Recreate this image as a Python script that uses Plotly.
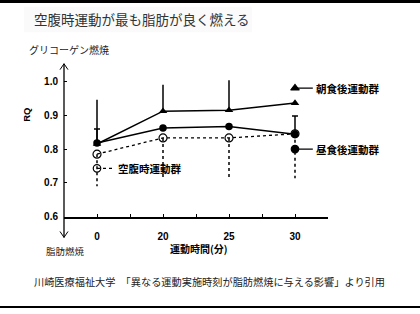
import plotly.graph_objects as go

# ---- data ----
categories = ["0", "20", "25", "30"]
breakfast = [0.815, 0.912, 0.915, 0.936]          # 朝食後運動群
breakfast_err_up = [0.131, 0.078, 0.088, 0.0]
lunch = [0.818, 0.862, 0.867, 0.844]              # 昼食後運動群
lunch_err_up = [0.041, 0.0, 0.0, 0.054]
fasting = [0.785, 0.833, 0.833, 0.845]            # 空腹時運動群
fasting_err_down = [0.095, 0.123, 0.123, 0.131]
y_ticks = [0.6, 0.7, 0.8, 0.9, 1.0]

W, H = 420, 314
JP = "Noto Sans CJK JP"
LAT = "Liberation Sans"

xs = list(range(len(categories)))

def px(x):
    return x / W

def py(y):
    return 1 - y / H

fig = go.Figure()

# fasting dotted error bars (downward)
ex, ey = [], []
for x, v, e in zip(xs, fasting, fasting_err_down):
    ex += [x, x, None]
    ey += [v, v - e, None]
fig.add_trace(go.Scatter(x=ex, y=ey, mode="lines",
                         line=dict(color="black", width=1.5, dash="dot"),
                         hoverinfo="skip", showlegend=False))

# fasting line
fig.add_trace(go.Scatter(x=xs, y=fasting, mode="lines+markers",
                         line=dict(color="black", width=1.3, dash="dot"),
                         marker=dict(symbol="circle-open", size=8, color="black",
                                     line=dict(width=1.2)),
                         showlegend=False))

# breakfast
fig.add_trace(go.Scatter(x=xs, y=breakfast, mode="lines+markers",
                         line=dict(color="black", width=1.5),
                         marker=dict(symbol="triangle-up", size=7.5, color="black"),
                         error_y=dict(type="data", symmetric=False,
                                      array=breakfast_err_up,
                                      arrayminus=[0] * len(xs),
                                      color="black", thickness=1.5, width=0),
                         showlegend=False))

# lunch
fig.add_trace(go.Scatter(x=xs, y=lunch, mode="lines+markers",
                         line=dict(color="black", width=1.5),
                         marker=dict(symbol="circle", size=7.5, color="black"),
                         error_y=dict(type="data", symmetric=False,
                                      array=lunch_err_up,
                                      arrayminus=[0] * len(xs),
                                      color="black", thickness=1.5, width=3),
                         showlegend=False))

# in-plot legend glyphs
leg_items = [
    ("朝食後運動群", 3, 0.980, "triangle-up", "solid", 0.27),
    ("昼食後運動群", 3, 0.800, "circle", "solid", 0.27),
    ("空腹時運動群", 0, 0.743, "circle-open", "dot", 0.27),
]
for name, lx, ly, sym, dash, ln in leg_items:
    fig.add_trace(go.Scatter(x=[lx, lx + ln], y=[ly, ly], mode="lines",
                             line=dict(color="black", width=1.3, dash=dash),
                             hoverinfo="skip", showlegend=False))
    fig.add_trace(go.Scatter(x=[lx], y=[ly], mode="markers",
                             marker=dict(symbol=sym, size=7.5, color="black",
                                         line=dict(width=1.2, color="black")),
                             hoverinfo="skip", showlegend=False))
    fig.add_annotation(x=lx + ln, y=ly, xref="x", yref="y", text=name,
                       showarrow=False, xanchor="left", xshift=1,
                       font=dict(family=JP, size=10.5, color="black", weight="bold"))

fig.update_xaxes(domain=[px(64), px(328)], range=[-0.5, 3.5],
                 tickmode="array", tickvals=xs, ticktext=categories,
                 ticks="inside", ticklen=3, tickcolor="black",
                 minor=dict(tickvals=[x + 0.5 for x in xs[:-1]], ticks="inside",
                            ticklen=3, tickcolor="black"),
                 showline=True, linecolor="black", linewidth=1.5,
                 showgrid=False, zeroline=False, ticklabelstandoff=9,
                 tickfont=dict(family=LAT, size=10, color="black", weight="bold"))
fig.update_yaxes(domain=[py(221), py(65)], range=[0.6, 1.052],
                 tickmode="array", tickvals=y_ticks,
                 ticktext=[f"{v:.1f}" for v in y_ticks],
                 ticks="inside", ticklen=3, tickcolor="black",
                 showline=False, showgrid=False, zeroline=False,
                 ticklabelstandoff=5,
                 tickfont=dict(family=LAT, size=10, color="black", weight="bold"))

shapes = [
    # y axis line with arrows
    dict(type="line", xref="paper", yref="paper", x0=px(64), x1=px(64),
         y0=py(242), y1=py(65), line=dict(color="black", width=1.3)),
    dict(type="path", xref="paper", yref="paper",
         path=f"M {px(60)} {py(71)} L {px(64)} {py(65)} L {px(68)} {py(71)}",
         line=dict(color="black", width=1)),
    dict(type="path", xref="paper", yref="paper",
         path=f"M {px(60)} {py(236)} L {px(64)} {py(242)} L {px(68)} {py(236)}",
         line=dict(color="black", width=1)),
    # title backdrop
    dict(type="rect", xref="paper", yref="paper", x0=px(24), x1=px(252),
         y0=py(33), y1=py(7), fillcolor="#fafafa", line=dict(width=0), layer="below"),
    # frame bars
    dict(type="rect", xref="paper", yref="paper", x0=0, x1=1, y0=py(3), y1=1,
         fillcolor="black", line=dict(width=0)),
    dict(type="rect", xref="paper", yref="paper", x0=0, x1=1, y0=0, y1=py(312),
         fillcolor="black", line=dict(width=0)),
]
for s in shapes:
    fig.add_shape(**s)

annotations = [
    dict(x=px(32), y=py(19), text="空腹時運動が最も脂肪が良く燃える",
         xanchor="left", yanchor="middle",
         font=dict(family=JP, size=13.5, color="#333333")),
    dict(x=px(27), y=py(50), text="グリコーゲン燃焼", xanchor="left", yanchor="middle",
         font=dict(family=JP, size=10, color="#222222")),
    dict(x=px(44), y=py(256), text="脂肪燃焼", xanchor="left", yanchor="middle",
         font=dict(family=JP, size=9.5, color="#222222")),
    dict(x=px(27), y=py(117), text="RQ", textangle=-90, xanchor="center", yanchor="middle",
         font=dict(family=LAT, size=9.5, color="black", weight="bold")),
    dict(x=px(199), y=py(253), text="運動時間(分)", xanchor="center", yanchor="middle",
         font=dict(family=JP, size=10, color="black", weight="bold")),
    dict(x=px(32), y=py(287),
         text="川崎医療福祉大学　「異なる運動実施時刻が脂肪燃焼に与える影響」より引用",
         xanchor="left", yanchor="middle",
         font=dict(family=JP, size=10.2, color="#222222")),
]
for a in annotations:
    fig.add_annotation(xref="paper", yref="paper", showarrow=False, **a)

fig.update_layout(width=W, height=H, autosize=False,
                  margin=dict(l=0, r=0, t=0, b=0, pad=0),
                  paper_bgcolor="white", plot_bgcolor="white",
                  showlegend=False)

fig.write_html("out.html")
